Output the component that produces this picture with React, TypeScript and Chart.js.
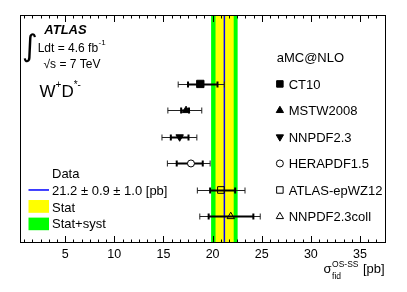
import React, { useEffect, useRef } from "react";
import { Chart, registerables } from "chart.js";

Chart.register(...registerables);

// ---------- data ----------
const models = ["CT10", "MSTW2008", "NNPDF2.3", "HERAPDF1.5", "ATLAS-epWZ12", "NNPDF2.3coll"];
const rowPos = [6, 5, 4, 3, 2, 1];
const central = [18.75, 17.3, 16.65, 17.8, 20.85, 21.85];
const innerLo = [17.5, 16.8, 15.75, 16.35, 19.75, 19.6];
const innerHi = [20.5, 17.6, 17.55, 19.0, 22.3, 24.15];
const outerLo = [16.5, 15.45, 14.85, 15.4, 18.45, 18.7];
const outerHi = [21.2, 18.9, 18.4, 19.75, 23.3, 24.85];
const markerStyle = ["rect", "triangle", "triangle", "circle", "rect", "triangle"];
const markerRotation = [0, 0, 180, 0, 0, 0];
const markerFill = ["#000000", "#000000", "#000000", "#ffffff", "rgba(0,0,0,0)", "rgba(0,0,0,0)"];
const markerRadius = [5.2, 4.3, 4.3, 3.5, 4.7, 4.3];

const dataValue = 21.2;
const statBand = [20.3, 22.15];
const totalBand = [19.85, 22.55];
const dataLabel = "21.2 \u00b1 0.9 \u00b1 1.0 [pb]";

const majorTicks = [5, 10, 15, 20, 25, 30, 35];
const xMin = 0.4;
const xMax = 37.65;
const yMin = 0;
const yMax = 8.6;
const legendMarkerX = 26.85;
const legendTextX = 27.75;

const FONT = '"Liberation Sans", Arial, Helvetica, sans-serif';

function txt(ctx: CanvasRenderingContext2D, s: string, x: number, yc: number, size: number, style = "") {
  ctx.font = `${style} ${size}px ${FONT}`;
  ctx.fillText(s, x, yc + 0.358 * size);
  return ctx.measureText(s).width;
}

const atlasPlugin = {
  id: "atlasDecor",
  beforeDatasetsDraw(chart: any) {
    const { ctx, chartArea: a, scales } = chart;
    const x = scales.x;
    const y = scales.y;
    ctx.save();
    // bands
    const g0 = x.getPixelForValue(totalBand[0]);
    const g1 = x.getPixelForValue(totalBand[1]);
    ctx.fillStyle = "#00ff00";
    ctx.fillRect(g0, a.top, g1 - g0, a.bottom - a.top);
    const s0 = x.getPixelForValue(statBand[0]);
    const s1 = x.getPixelForValue(statBand[1]);
    ctx.fillStyle = "#ffff00";
    ctx.fillRect(s0, a.top, s1 - s0, a.bottom - a.top);
    const dv = x.getPixelForValue(dataValue);
    ctx.strokeStyle = "#0000ff";
    ctx.lineWidth = 1.5;
    ctx.beginPath();
    ctx.moveTo(dv, a.top);
    ctx.lineTo(dv, a.bottom);
    ctx.stroke();

    // error bars
    for (let i = 0; i < models.length; i++) {
      const yy = Math.round(y.getPixelForValue(rowPos[i])) + 0.5;
      const ol = x.getPixelForValue(outerLo[i]);
      const oh = x.getPixelForValue(outerHi[i]);
      const il = x.getPixelForValue(innerLo[i]);
      const ih = x.getPixelForValue(innerHi[i]);
      ctx.strokeStyle = "#222222";
      ctx.lineWidth = 1;
      ctx.beginPath();
      ctx.moveTo(ol, yy);
      ctx.lineTo(oh, yy);
      ctx.moveTo(ol, yy - 3);
      ctx.lineTo(ol, yy + 3);
      ctx.moveTo(oh, yy - 3);
      ctx.lineTo(oh, yy + 3);
      ctx.stroke();
      ctx.strokeStyle = "#000000";
      ctx.lineWidth = 2;
      ctx.beginPath();
      ctx.moveTo(il, yy);
      ctx.lineTo(ih, yy);
      ctx.moveTo(il, yy - 3);
      ctx.lineTo(il, yy + 3);
      ctx.moveTo(ih, yy - 3);
      ctx.lineTo(ih, yy + 3);
      ctx.stroke();
    }
    ctx.restore();
  },
  afterDraw(chart: any) {
    const { ctx, chartArea: a, scales } = chart;
    const x = scales.x;
    const y = scales.y;
    ctx.save();
    // frame
    ctx.strokeStyle = "#000000";
    ctx.lineWidth = 1;
    ctx.strokeRect(Math.round(a.left) + 0.5, Math.round(a.top) + 0.5, Math.round(a.right - a.left) - 1, Math.round(a.bottom - a.top) - 1);
    // ticks (top & bottom, inward)
    const minorStep = 5 / 6;
    ctx.beginPath();
    for (let k = 1; k * minorStep < xMax; k++) {
      const v = k * minorStep;
      if (v <= xMin) continue;
      const px = Math.round(x.getPixelForValue(v)) + 0.5;
      const len = k % 6 === 0 ? 7 : 3.5;
      ctx.moveTo(px, a.top);
      ctx.lineTo(px, a.top + len);
      ctx.moveTo(px, a.bottom);
      ctx.lineTo(px, a.bottom - len);
    }
    ctx.stroke();

    ctx.fillStyle = "#000000";
    ctx.textAlign = "left";
    ctx.textBaseline = "alphabetic";

    // ATLAS label block
    ctx.font = `30px "DejaVu Sans"`;
    ctx.fillText("\u222b", 22, 56);
    txt(ctx, "ATLAS", 44.3, 29, 13, "italic bold");
    const w1 = txt(ctx, "Ldt = 4.6 fb", 37.7, 47.7, 12);
    txt(ctx, "-1", 37.7 + w1 + 0.5, 42, 8);
    txt(ctx, "\u221as = 7 TeV", 43.5, 64, 12);

    // W+D*-
    let cx = 39.5;
    cx += txt(ctx, "W", cx, 90.7, 17);
    cx += txt(ctx, "+", cx, 84.5, 10);
    cx += txt(ctx, "D", cx, 90.7, 17);
    txt(ctx, "*-", cx, 84.5, 10);

    // right legend
    txt(ctx, "aMC@NLO", 276.7, y.getPixelForValue(7), 13);
    for (let i = 0; i < models.length; i++) {
      txt(ctx, models[i], x.getPixelForValue(legendTextX), y.getPixelForValue(rowPos[i]), 13);
    }

    // left legend (data)
    const lx0 = 28.5;
    const lx1 = 49;
    txt(ctx, "Data", 52, y.getPixelForValue(2.64), 13);
    const ly = y.getPixelForValue(2.0);
    ctx.strokeStyle = "#0000ff";
    ctx.lineWidth = 1.5;
    ctx.beginPath();
    ctx.moveTo(lx0, ly);
    ctx.lineTo(lx1, ly);
    ctx.stroke();
    txt(ctx, dataLabel, 52, ly, 13);
    const sy = y.getPixelForValue(1.38);
    ctx.fillStyle = "#ffff00";
    ctx.fillRect(lx0, sy - 6.4, lx1 - lx0, 12.8);
    ctx.fillStyle = "#000000";
    txt(ctx, "Stat", 52, sy + 0.8, 13);
    const ty = y.getPixelForValue(0.72);
    ctx.fillStyle = "#00ff00";
    ctx.fillRect(lx0, ty - 6.3, lx1 - lx0, 12.6);
    ctx.fillStyle = "#000000";
    txt(ctx, "Stat+syst", 52, ty - 0.5, 13);

    // axis title
    let ax = 323.5;
    const sw = txt(ctx, "\u03c3", ax, 268.3, 13);
    ax += sw + 0.5;
    const supW = txt(ctx, "OS-SS", ax, 263.5, 8.5);
    txt(ctx, "fid", ax, 275.5, 8.5);
    ax += supW + 4.5;
    txt(ctx, "[pb]", ax, 268.3, 13);

    ctx.restore();
  },
};

export default function App() {
  const ref = useRef<HTMLCanvasElement | null>(null);
  useEffect(() => {
    if (!ref.current) return;
    const chart = new Chart(ref.current, {
      type: "scatter",
      data: {
        datasets: [
          {
            data: models.map((_, i) => ({ x: central[i], y: rowPos[i] })),
            pointStyle: markerStyle as any,
            rotation: markerRotation,
            pointRadius: markerRadius,
            backgroundColor: markerFill,
            borderColor: "#000000",
            borderWidth: 1,
            showLine: false,
          },
          {
            data: models.map((_, i) => ({ x: legendMarkerX, y: rowPos[i] })),
            pointStyle: markerStyle as any,
            rotation: markerRotation,
            pointRadius: [4.6, 4.2, 4.2, 3.5, 4.6, 4.2],
            backgroundColor: markerFill,
            borderColor: "#000000",
            borderWidth: 1,
            showLine: false,
          },
        ],
      },
      options: {
        animation: false,
        responsive: false,
        events: [],
        layout: { padding: { left: 20, right: 21, top: 15, bottom: 0 } },
        plugins: { legend: { display: false }, tooltip: { enabled: false } },
        scales: {
          x: {
            type: "linear",
            min: xMin,
            max: xMax,
            position: "bottom",
            grid: { display: false, drawTicks: false },
            border: { display: false },
            ticks: {
              font: { family: FONT, size: 12.5 },
              color: "#000000",
              padding: 4,
              maxRotation: 0,
              autoSkip: false,
            },
            afterBuildTicks: (s: any) => {
              s.ticks = majorTicks.map((v) => ({ value: v }));
            },
            afterFit: (s: any) => {
              s.height = 49;
            },
          },
          y: { type: "linear", min: yMin, max: yMax, display: false },
        },
      },
      plugins: [atlasPlugin],
    });
    return () => chart.destroy();
  }, []);
  return (
    <div style={{ position: "fixed", left: 0, top: 0, width: 407, height: 292, background: "#ffffff" }}>
      <canvas ref={ref} width={407} height={292} style={{ display: "block" }} />
    </div>
  );
}
